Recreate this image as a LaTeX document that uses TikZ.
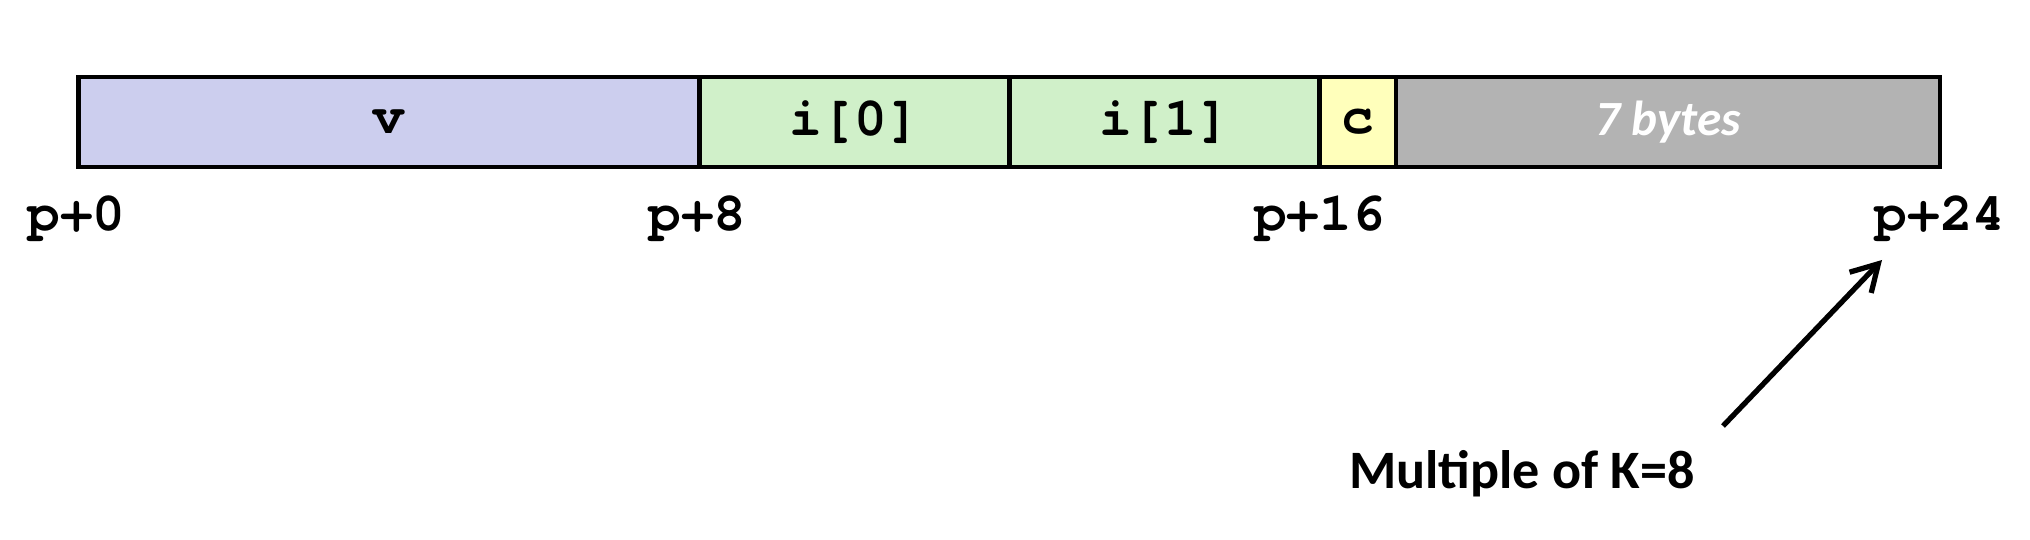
\documentclass[tikz,border=0pt]{standalone}
\usepackage{fontspec}
\usepackage{tikz}
\usetikzlibrary{positioning,arrows.meta}
\newfontfamily\codefont{TeX Gyre Cursor}
\newfontfamily\notefont{Carlito}
\definecolor{vfill}{RGB}{204,206,238}
\definecolor{ifill}{RGB}{208,240,201}
\definecolor{cfill}{RGB}{255,255,187}
\definecolor{padfill}{RGB}{179,179,179}
\begin{document}
\begin{tikzpicture}[
	field/.style={draw=black,line width=1.4pt,minimum height=0.9cm,inner sep=0pt,outer sep=0pt,font=\codefont\bfseries\fontsize{15.5}{18}\selectfont},
	addr/.style={anchor=base,inner sep=0pt,font=\codefont\bfseries\fontsize{15.5}{18}\selectfont},
	pointer/.style={line width=1.5pt,-{Straight Barb[length=0.26cm,width=0.3cm,line width=1.5pt]}}]
			\useasboundingbox (0,0) rectangle (20.3,5.4);
			\node[field,fill=vfill,minimum width=6.21cm,anchor=south west] (v) at (0.785,3.73) {v};
			\node[field,fill=ifill,minimum width=3.10cm,right=0pt of v] (i0) {i[0]};
			\node[field,fill=ifill,minimum width=3.10cm,right=0pt of i0] (i1) {i[1]};
			\node[field,fill=cfill,minimum width=0.765cm,right=0pt of i1] (c) {c};
			\node[field,fill=padfill,minimum width=5.44cm,right=0pt of c,font=\notefont\bfseries\itshape\fontsize{14}{16}\selectfont,text=white] (pad) {7 bytes};
			\node[addr] (a0) at ([xshift=-0.02cm,yshift=-0.64cm]v.south west) {p+0};
			\node[addr] (a8) at ([xshift=-0.02cm,yshift=-0.64cm]i0.south west) {p+8};
			\node[addr] (a16) at ([xshift=0cm,yshift=-0.64cm]c.south west) {p+16};
			\node[addr] (a24) at ([xshift=0cm,yshift=-0.64cm]pad.south east) {p+24};
			\node[anchor=base,inner sep=0pt,font=\notefont\bfseries\fontsize{15.4}{18}\selectfont] (k8) at (15.22,0.51) {Multiple of K=8};
			\coordinate (tail) at (17.23,1.14);
			\coordinate (tip) at (18.82,2.80);
			\draw[pointer] (tail) -- (tip);
		\end{tikzpicture}
\end{document}
